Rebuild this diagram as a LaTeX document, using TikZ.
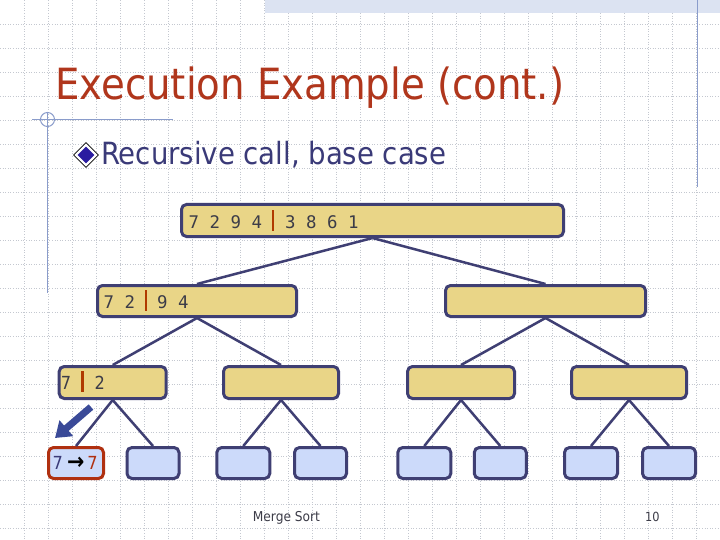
\documentclass[tikz,border=0pt]{standalone}
\usepackage{fontspec}
\setmainfont{DejaVu Sans Condensed}
\newfontfamily\digitmono{DejaVu Sans Mono}
\usetikzlibrary{shapes.geometric,arrows.meta}
\definecolor{gold}{HTML}{E9D587}
\definecolor{navyline}{HTML}{3F3F73}
\definecolor{lightblue}{HTML}{CCDAFA}
\definecolor{titlered}{HTML}{B0361C}
\definecolor{subnavy}{HTML}{3A3A78}
\definecolor{barred}{HTML}{B03A00}
\definecolor{digit}{HTML}{3C3C48}
\definecolor{gridc}{HTML}{C4C8D0}
\definecolor{deco}{HTML}{8A9CCB}
\definecolor{band}{HTML}{DCE3F2}
\definecolor{arrowblue}{HTML}{3A4A98}
\definecolor{redborder}{HTML}{B03010}
\definecolor{bulletblue}{HTML}{2A1CA0}
\newcommand\splitbar{\textcolor{barred}{\rule[-2.2pt]{2.5pt}{20.5pt}}}
\tikzset{
  box/.style={draw=navyline, line width=3pt, rounded corners=5pt, inner sep=0pt},
  goldbox/.style={box, fill=gold, minimum height=32pt},
  bluebox/.style={box, fill=lightblue, minimum height=31pt},
  redbox/.style={box, draw=redborder, fill=lightblue, minimum height=31pt},
  link/.style={draw=navyline, line width=2.5pt},
  lbl/.style={inner sep=0pt, anchor=base west, text=digit},
  monolbl/.style={lbl, font=\digitmono\fontsize{17.4pt}{20pt}\selectfont},
  sanslbl/.style={lbl, font=\fontsize{18pt}{20pt}\selectfont},
  deco line/.style={draw=deco, line width=1pt}
}
\begin{document}
\begin{tikzpicture}[x=1pt,y=-1pt]
\useasboundingbox (0,0) rectangle (720,540);
\fill[white] (0,0) rectangle (720,540);
% grid
\foreach \gx in {24,48,...,696} \draw[gridc, line width=0.6pt, dotted] (\gx,0) -- (\gx,540);
\foreach \gy in {24,48,...,528} \draw[gridc, line width=0.6pt, dotted] (0,\gy) -- (720,\gy);
% decorations
\fill[band] (265,0) rectangle (720,13);
\draw[deco line] (697,0) -- (697,187);
\draw[deco line] (32,119.5) -- (173,119.5);
\draw[deco line] (47.5,112) -- (47.5,293);
\draw[deco line] (47.5,119.5) circle[radius=7pt];
% title
\node[inner sep=0pt, anchor=base west, text=titlered, font=\fontsize{43pt}{50pt}\selectfont] (title) at (55,100) {Execution Example (cont.)};
\node[diamond, aspect=1, draw=black, line width=0.6pt, fill=white, minimum size=25pt, inner sep=0pt] (bulo) at (86,155) {};
\node[diamond, aspect=1, fill=bulletblue, minimum size=17pt, inner sep=0pt] (buli) at (86,155) {};
\node[inner sep=0pt, anchor=base west, text=subnavy, font=\fontsize{30.6pt}{34pt}\selectfont] (sub) at (101,165) {Recursive call, base case};
% boxes
\node[goldbox, minimum width=382pt] (L1) at (372.5,220.5) {};
\node[goldbox, minimum width=199pt, minimum height=31pt] (L2a) at (197,301) {};
\node[goldbox, minimum width=200pt, minimum height=31pt] (L2b) at (545.5,301) {};
\node[goldbox, minimum width=107pt] (L3a) at (112.7,382.5) {};
\node[goldbox, minimum width=115pt] (L3b) at (281,382.5) {};
\node[goldbox, minimum width=107pt] (L3c) at (461,382.5) {};
\node[goldbox, minimum width=115pt] (L3d) at (629,382.5) {};
\node[redbox, minimum width=55pt] (L4a) at (76,463) {};
\node[bluebox, minimum width=52pt] (L4b) at (153,463) {};
\node[bluebox, minimum width=53pt] (L4c) at (243.3,463) {};
\node[bluebox, minimum width=52pt] (L4d) at (320.5,463) {};
\node[bluebox, minimum width=53pt] (L4e) at (424.3,463) {};
\node[bluebox, minimum width=52pt] (L4f) at (500.3,463) {};
\node[bluebox, minimum width=53pt] (L4g) at (591,463) {};
\node[bluebox, minimum width=53pt] (L4h) at (669,463) {};
% links
\draw[link] (L1.south) -- (L2a.north);
\draw[link] (L1.south) -- (L2b.north);
\draw[link] (L2a.south) -- (L3a.north);
\draw[link] (L2a.south) -- (L3b.north);
\draw[link] (L2b.south) -- (L3c.north);
\draw[link] (L2b.south) -- (L3d.north);
\draw[link] (L3a.south) -- (L4a.north);
\draw[link] (L3a.south) -- (L4b.north);
\draw[link] (L3b.south) -- (L4c.north);
\draw[link] (L3b.south) -- (L4d.north);
\draw[link] (L3c.south) -- (L4e.north);
\draw[link] (L3c.south) -- (L4f.north);
\draw[link] (L3d.south) -- (L4g.north);
\draw[link] (L3d.south) -- (L4h.north);
% labels
\node[monolbl] (t1) at (188.5,228.3) {7 2 9 4\hspace{9.7pt}\splitbar\hspace{11pt}3 8 6 1};
\node[monolbl] (t2) at (103.5,308.3) {7 2\hspace{9.8pt}\splitbar\hspace{9.8pt}9 4};
\node[sanslbl] (t3) at (60.7,389.3) {7\hspace{10pt}\splitbar\hspace{11pt}2};
\node[lbl, font=\fontsize{18pt}{20pt}\selectfont] (t4) at (52.5,469) {\textcolor{subnavy}{7}\hspace{4pt}\textcolor{black}{\fontsize{23pt}{24pt}\selectfont\textbf{→}}\hspace{3pt}\textcolor{redborder}{7}};
% big arrow
\coordinate (arrS) at (91,407);
\coordinate (arrE) at (55,438);
\draw[arrowblue, line width=7pt, -{Triangle[width=20pt,length=15pt]}] (arrS) -- (arrE);
% footer
\node[inner sep=0pt, anchor=base west, text=digit, font=\fontsize{13.6pt}{15pt}\selectfont] (foot) at (252.7,521.7) {Merge Sort};
\node[inner sep=0pt, anchor=base west, text=digit, font=\fontsize{12.6pt}{14pt}\selectfont] (page) at (645,521.7) {10};
\end{tikzpicture}
\end{document}
